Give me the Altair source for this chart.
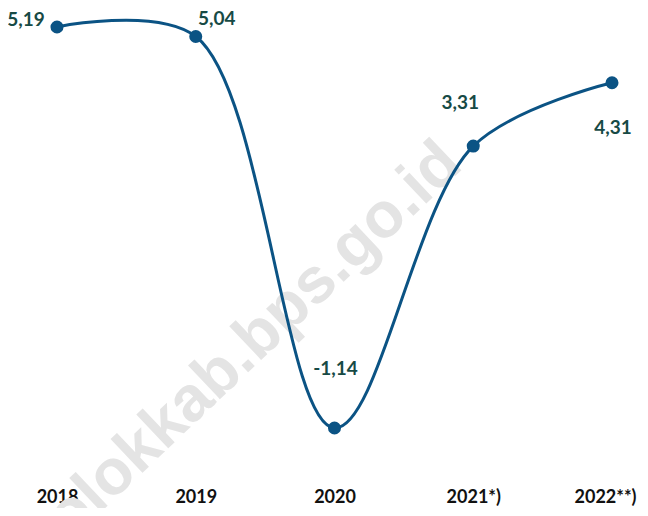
import altair as alt
import pandas as pd

years = ["2018", "2019", "2020", "2021*)", "2022**)"]
values = [5.19, 5.04, -1.14, 3.31, 4.31]
labels = ["5,19", "5,04", "-1,14", "3,31", "4,31"]

df = pd.DataFrame({"year": years, "value": values, "label": labels})

LINE = "#0b5384"
LABEL = "#174a45"

x = alt.X("year:N", sort=years,
          scale=alt.Scale(type="point", padding=0),
          axis=alt.Axis(title=None, domain=False, ticks=False, grid=False,
                        labelAngle=0, labelFontSize=18, labelFontWeight="bold",
                        labelFont="Lato", labelColor="#111111", labelPadding=60,
                        labelOffset={"condition": {"test": "datum.label == '2022**)'", "value": -7},
                                     "value": 0}))
y = alt.Y("value:Q", scale=alt.Scale(domain=[-1.14, 5.19], nice=False, zero=False),
          axis=None)

base = alt.Chart(df)

watermark = alt.Chart(pd.DataFrame({"t": ["solokkab.bps.go.id"]})).mark_text(
    angle=316.5, fontSize=64, font="Liberation Sans", fontWeight="bold",
    color="#e4e4e4", align="center", baseline="middle"
).encode(text="t:N", x=alt.value(184), y=alt.value(326))

line = base.mark_line(interpolate="catmull-rom", color=LINE, strokeWidth=3).encode(x=x, y=y)
pts = base.mark_point(filled=True, color=LINE, size=170, opacity=1).encode(x=x, y=y)

offsets = {"2018": (-31, -7), "2019": (21, -18), "2020": (1, -59),
           "2021*)": (-13, -43), "2022**)": (1, 45)}
texts = []
for yr in years:
    dx, dy = offsets[yr]
    texts.append(
        base.transform_filter(alt.datum.year == yr).mark_text(
            dx=dx, dy=dy, fontSize=19, font="Lato", fontWeight="bold",
            color=LABEL, align="center", baseline="middle"
        ).encode(x=x, y=y, text="label:N")
    )

chart = alt.layer(watermark, line, pts, *texts).properties(
    width=555, height=401,
    autosize=alt.AutoSizeParams(type="none"),
    padding={"left": 49, "top": 19, "right": 28, "bottom": 80},
).configure(background="white").configure_view(strokeWidth=0)

chart.save("out.html", embed_options={"renderer": "svg", "actions": False})
